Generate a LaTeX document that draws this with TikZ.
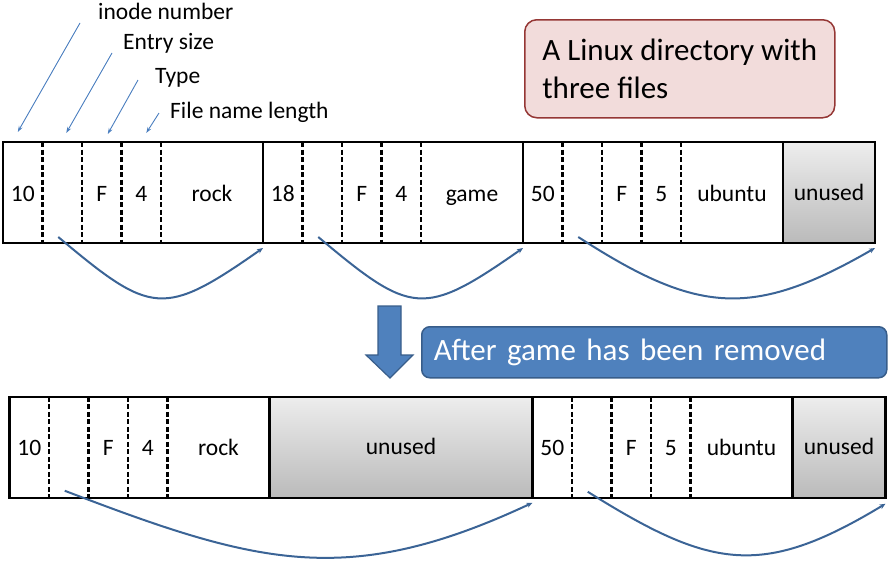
\documentclass[tikz,border=0pt]{standalone}
\usepackage{fontspec}
\setmainfont{Carlito}
\usetikzlibrary{positioning,arrows.meta}

\definecolor{notefill}{HTML}{F2DCDB}
\definecolor{noteline}{HTML}{953735}
\definecolor{bannerfill}{HTML}{4F81BD}
\definecolor{bannerline}{HTML}{385D8A}
\definecolor{hopblue}{HTML}{3B6496}
\definecolor{pointblue}{HTML}{4A7EBF}

\begin{document}
\begin{tikzpicture}[
        x=1pt, y=-1pt,
        field/.style={minimum width=39.5pt, minimum height=101pt, inner sep=0pt, outer sep=0pt, text height=17pt, text depth=0pt, font=\fontsize{23.5}{28}\selectfont},
        namefield/.style={field, minimum width=102pt},
        unusedfield/.style={field, text height=15pt, top color=black!7, bottom color=black!27},
        divider/.style={line width=2.2pt, dash pattern=on 5pt off 2.5pt},
        rowline/.style={line width=2.2pt},
        hop/.style={draw=hopblue, line width=2pt, -{Stealth[length=6pt,width=5pt]}},
        pointer/.style={draw=pointblue, line width=0.9pt, -{Stealth[length=6pt,width=4pt]}},
        caption/.style={anchor=west, inner sep=0pt, font=\fontsize{23.5}{28}\selectfont},
        note/.style={draw=noteline, fill=notefill, line width=1.5pt, rounded corners=12pt, minimum width=310pt, minimum height=98pt, align=left, font=\fontsize{31}{38}\selectfont},
        banner/.style={draw=bannerline, fill=bannerfill, line width=1.5pt, rounded corners=8pt, text=white, minimum width=465pt, minimum height=51pt, text width=441pt, inner xsep=12pt, align=left, font=\fontsize{31}{38}\selectfont}
    ]
        \useasboundingbox (0,0) rectangle (890,562);

        % directory with three files
        \node[field, anchor=west] (t1) at (3,192.5) {10};
        \node[field, right=0pt of t1] (t2) {};
        \node[field, right=0pt of t2] (t3) {F};
        \node[field, right=0pt of t3] (t4) {4};
        \node[namefield, right=0pt of t4] (t5) {rock};
        \node[field, right=0pt of t5] (t6) {18};
        \node[field, right=0pt of t6] (t7) {};
        \node[field, right=0pt of t7] (t8) {F};
        \node[field, right=0pt of t8] (t9) {4};
        \node[namefield, right=0pt of t9] (t10) {game};
        \node[field, right=0pt of t10] (t11) {50};
        \node[field, right=0pt of t11] (t12) {};
        \node[field, right=0pt of t12] (t13) {F};
        \node[field, right=0pt of t13] (t14) {5};
        \node[namefield, right=0pt of t14] (t15) {ubuntu};
        \node[unusedfield, minimum width=92pt, right=0pt of t15] (t16) {unused};

        % after removing game
        \node[field, anchor=west] (b1) at (9.5,447.25) {10};
        \node[field, right=0pt of b1] (b2) {};
        \node[field, right=0pt of b2] (b3) {F};
        \node[field, right=0pt of b3] (b4) {4};
        \node[namefield, right=0pt of b4] (b5) {rock};
        \node[unusedfield, minimum width=263pt, right=0pt of b5] (b6) {unused};
        \node[field, right=0pt of b6] (b7) {50};
        \node[field, right=0pt of b7] (b8) {};
        \node[field, right=0pt of b8] (b9) {F};
        \node[field, right=0pt of b9] (b10) {5};
        \node[namefield, right=0pt of b10] (b11) {ubuntu};
        \node[unusedfield, minimum width=93pt, right=0pt of b11] (b12) {unused};

        \foreach \c in {t1,t2,t3,t4,t6,t7,t8,t9,t11,t12,t13,t14,b1,b2,b3,b4,b7,b8,b9,b10}
            \draw[divider] (\c.north east) -- (\c.south east);
        \foreach \c in {t5,t10,t15,b5,b6,b11}
            \draw[rowline] (\c.north east) -- (\c.south east);
        \draw[rowline] (t1.north west) rectangle (t16.south east);
        \draw[rowline] (b1.north west) rectangle (b12.south east);

        % entry size hops
        \draw[hop] ([shift={(-4,-6)}]t2.south) .. controls +(93,78) and +(-100,70) .. ([yshift=-5pt]t6.south west);
        \draw[hop] ([shift={(-4,-6)}]t7.south) .. controls +(93,78) and +(-100,70) .. ([yshift=-5pt]t11.south west);
        \draw[hop] ([shift={(-4,-6)}]t12.south) .. controls +(119,77) and +(-123,71) .. ([yshift=-5pt]t16.south east);
        \draw[hop] ([shift={(-4,-7)}]b2.south) .. controls +(191,73) and +(-186,87) .. ([yshift=-5pt]b7.south west);
        \draw[hop] ([shift={(-4,-6)}]b8.south) .. controls +(123,77) and +(-124,75) .. ([yshift=-6pt]b12.south east);

        % field names
        \node[caption] (lblInode) at (98,11) {inode number};
        \node[caption] (lblSize) at (123,43) {Entry size};
        \node[caption] (lblType) at (155,78) {Type};
        \node[caption] (lblLen) at (170,112) {File name length};
        \draw[pointer] ([shift={(-18,12)}]lblInode.west) -- ([shift={(-5,-10)}]t1.north);
        \draw[pointer] ([shift={(-11,10)}]lblSize.west) -- ([shift={(4,-9)}]t2.north);
        \draw[pointer] ([shift={(-17,2)}]lblType.west) -- ([shift={(6,-8)}]t3.north);
        \draw[pointer] ([shift={(-11,1)}]lblLen.west) -- ([shift={(5,-9)}]t4.north);

        \node[note, anchor=north west] (dirnote) at (524,19) {A Linux directory with\\three files};

        \draw[fill=bannerfill, draw=bannerline, line width=1.2pt] (378,306) -- (401,306) -- (401,355) -- (413,355) -- (390,378) -- (366,355) -- (378,355) -- cycle;
        \node[banner, anchor=north west] (after) at (421,326) {After game has been removed};
    \end{tikzpicture}
\end{document}
